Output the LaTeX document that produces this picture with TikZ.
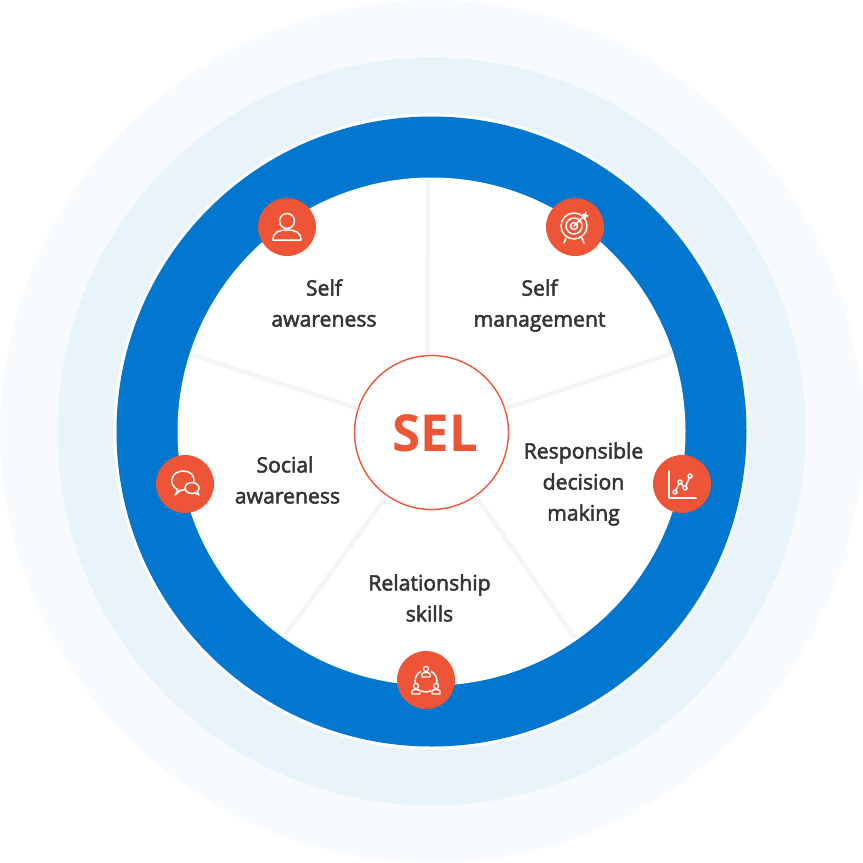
\documentclass[tikz,border=0pt]{standalone}
\usepackage{fontspec}
\setmainfont{Open Sans}
\newfontfamily\lblfont{Open Sans}[FakeBold=2.4]
\usetikzlibrary{positioning}
\definecolor{selBlue}{HTML}{0277CF}
\definecolor{selRed}{HTML}{EE5537}
\definecolor{selPale}{HTML}{F8FBFE}
\definecolor{selHalo}{HTML}{E9F3FA}
\definecolor{selSpoke}{HTML}{F3F5F9}
\definecolor{selText}{HTML}{343436}
\tikzset{
  disc/.style     = {circle, inner sep=0pt, minimum size=2*#1},
  icondisc/.style = {disc=29pt, fill=selRed},
  spoke/.style    = {selSpoke, line width=4.5pt},
  lbl/.style      = {font=\lblfont\fontsize{21.2}{31}\selectfont, align=center, text=selText},
  ico/.style      = {white, line width=1.5pt, line join=round, line cap=round},
  pics/person/.style = {code={
    \draw[ico] (0,-6) circle (7.5);
    \draw[ico] (-14,13) .. controls (-14,5) and (-8,3) .. (0,3)
                        .. controls (8,3) and (14,5) .. (14,13) -- cycle;
  }},
  pics/target/.style = {code={
    \draw[ico] (-1,-1) circle (13);
    \draw[ico] (-1,-1) circle (8);
    \draw[ico] (-1,-1) circle (3.5);
    \draw[ico] (-1,-1) -- (10,-12);
    \draw[ico] (8,-10) -- (8,-13) (8,-10) -- (11,-10) (10,-12) -- (11,-15) (10,-12) -- (13,-11);
    \draw[ico] (-9,11) -- (-11,16) (7,11) -- (9,16);
  }},
  pics/chat/.style = {code={
    \draw[ico] (-10,11) -- (-7,6) .. controls (-12,3) and (-14,-1) .. (-13,-5)
      .. controls (-12,-11) and (-6,-13) .. (-2,-13)
      .. controls (5,-13) and (9,-9) .. (9,-4)
      .. controls (9,1) and (5,6) .. (-2,6) -- (-4,6) -- cycle;
    \filldraw[ico, fill=selRed] (7,4) ellipse (7 and 5.5);
    \draw[ico, fill=selRed] (10,9) -- (14,11) -- (12,7);
  }},
  pics/chart/.style = {code={
    \draw[ico] (-13,-13) -- (-13,14) -- (14,14);
    \draw[ico] (-7,8) -- (-2,-2) -- (3,4) -- (8,-8);
    \foreach \px/\py in {-7/8, -2/-2, 3/4, 8/-8} {
      \draw[ico, fill=selRed] (\px,\py) circle (2);
    }
  }},
  pics/group/.style = {code={
    \draw[ico] (0,1) circle (11);
    \foreach \px/\py in {0/-10, -10/7, 10/7} {
      \fill[selRed] (\px-5,\py-4) rectangle (\px+5,\py+7);
      \draw[ico, line width=1.3pt] (\px,\py-1) circle (2.6);
      \draw[ico, line width=1.3pt] (\px-4,\py+7) -- (\px-4,\py+4)
        .. controls (\px-4,\py+2) and (\px+4,\py+2) .. (\px+4,\py+4) -- (\px+4,\py+7) -- cycle;
    }
  }},
}

\begin{document}
\begin{tikzpicture}[x=1pt,y=-1pt]
  \useasboundingbox (0,0) rectangle (863,863);
  % rings
  \node[disc=431pt, fill=selPale] (pale) at (431.5,431.5) {};
  \node[disc=374pt, fill=selHalo] (halo) at (431.5,431.5) {};
  \node[disc=318pt, fill=white] (gap) at (431.5,431.5) {};
  \node[disc=315pt, fill=selBlue] (band) at (431.5,431.5) {};
  \node[disc=254pt, fill=white] (inner) at (431.5,431.5) {};
  % spokes
  \node[disc=77pt, draw=selRed, line width=1.4pt] (sel) at (431.5,432.5) {};
  \node[font=\fontsize{51}{54}\selectfont\bfseries, text=selRed, inner sep=0pt] (selTxt) at (435.5,433.5) {SEL};
  \coordinate (spokeA) at (428,180);
  \coordinate (spokeB) at (673,353);
  \coordinate (spokeC) at (575,638);
  \coordinate (spokeD) at (285,635);
  \coordinate (spokeE) at (190,354);
  \foreach \tip/\ang in {spokeA/93, spokeB/18, spokeC/-55, spokeD/-125, spokeE/162} {
    \draw[spoke] (sel.\ang) -- (\tip);
  }
  % icons
  \foreach \nm/\x/\y/\ic in {selfA/287/227/person, selfM/575/227/target, social/185/484/chat, resp/682/484/chart, relat/426/680/group} {
    \node[icondisc] (\nm) at (\x,\y) {};
    \pic at (\nm) {\ic};
  }
  % labels
  \node[lbl] (lblA) at (324,303) {Self\\awareness};
  \node[lbl] (lblM) at (539.5,305.5) {Self\\management};
  \node[lbl] (lblS) at (287.5,480) {Social\hspace*{5pt}\\awareness};
  \node[lbl] (lblR) at (583.5,484) {Responsible\\decision\\making};
  \node[lbl] (lblK) at (429.5,598) {Relationship\\skills};
\end{tikzpicture}
\end{document}
